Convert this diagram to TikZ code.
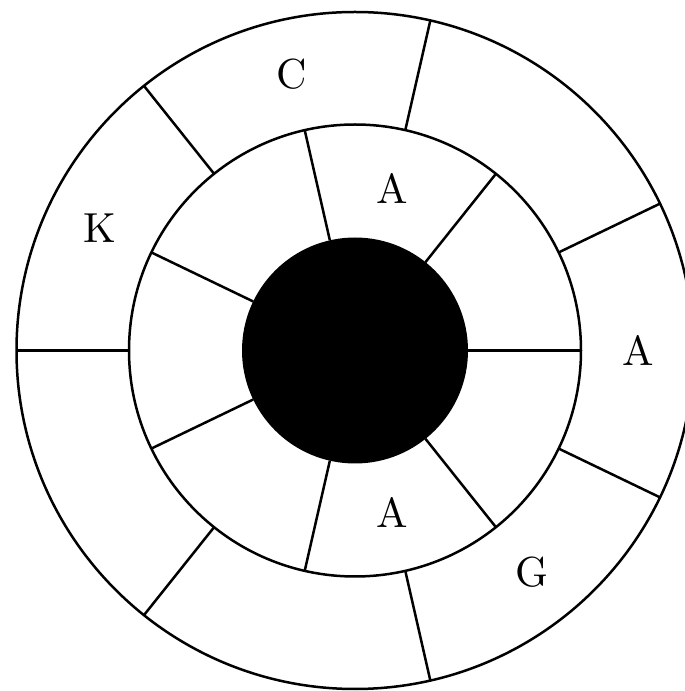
\documentclass[tikz,border=0pt]{standalone}
\usetikzlibrary{calc}
\begin{document}
\begin{tikzpicture}[x=1pt,y=1pt,line width=2.5pt,
  lbl/.style={font=\fontsize{10}{12}\selectfont, inner sep=0pt, scale=4.2, transform shape}]
\useasboundingbox (0,0) rectangle (685,691);
\coordinate (O) at (355,340.5);
\def\ro{338.5}
\def\rm{226}
\def\ri{113}
\draw (O) circle[radius=\ro];
\draw (O) circle[radius=\rm];
\fill (O) circle[radius=\ri];
% inner ring dividers
\foreach \k in {0,...,6}{
  \draw ($(O)+({\k*360/7}:\ri)$) -- ($(O)+({\k*360/7}:\rm)$);
}
% outer ring dividers
\foreach \k in {0,...,6}{
  \draw ($(O)+({180+\k*360/7}:\rm)$) -- ($(O)+({180+\k*360/7}:\ro)$);
}
\node[lbl] (c) at ($(O)+({180-360/7*1.5}:283)$) {C};
\node[lbl] (kk) at ($(O)+({180-360/7*0.5}:283)$) {K};
\node[lbl] (a1) at ($(O)+(0:283)$) {A};
\node[lbl] (g) at ($(O)+({-360/7}:284)$) {G};
\node[lbl] (a2) at ($(O)+({360/14*3}:166)$) {A};
\node[lbl] (a3) at ($(O)+({-360/14*3}:166)$) {A};
\end{tikzpicture}
\end{document}
